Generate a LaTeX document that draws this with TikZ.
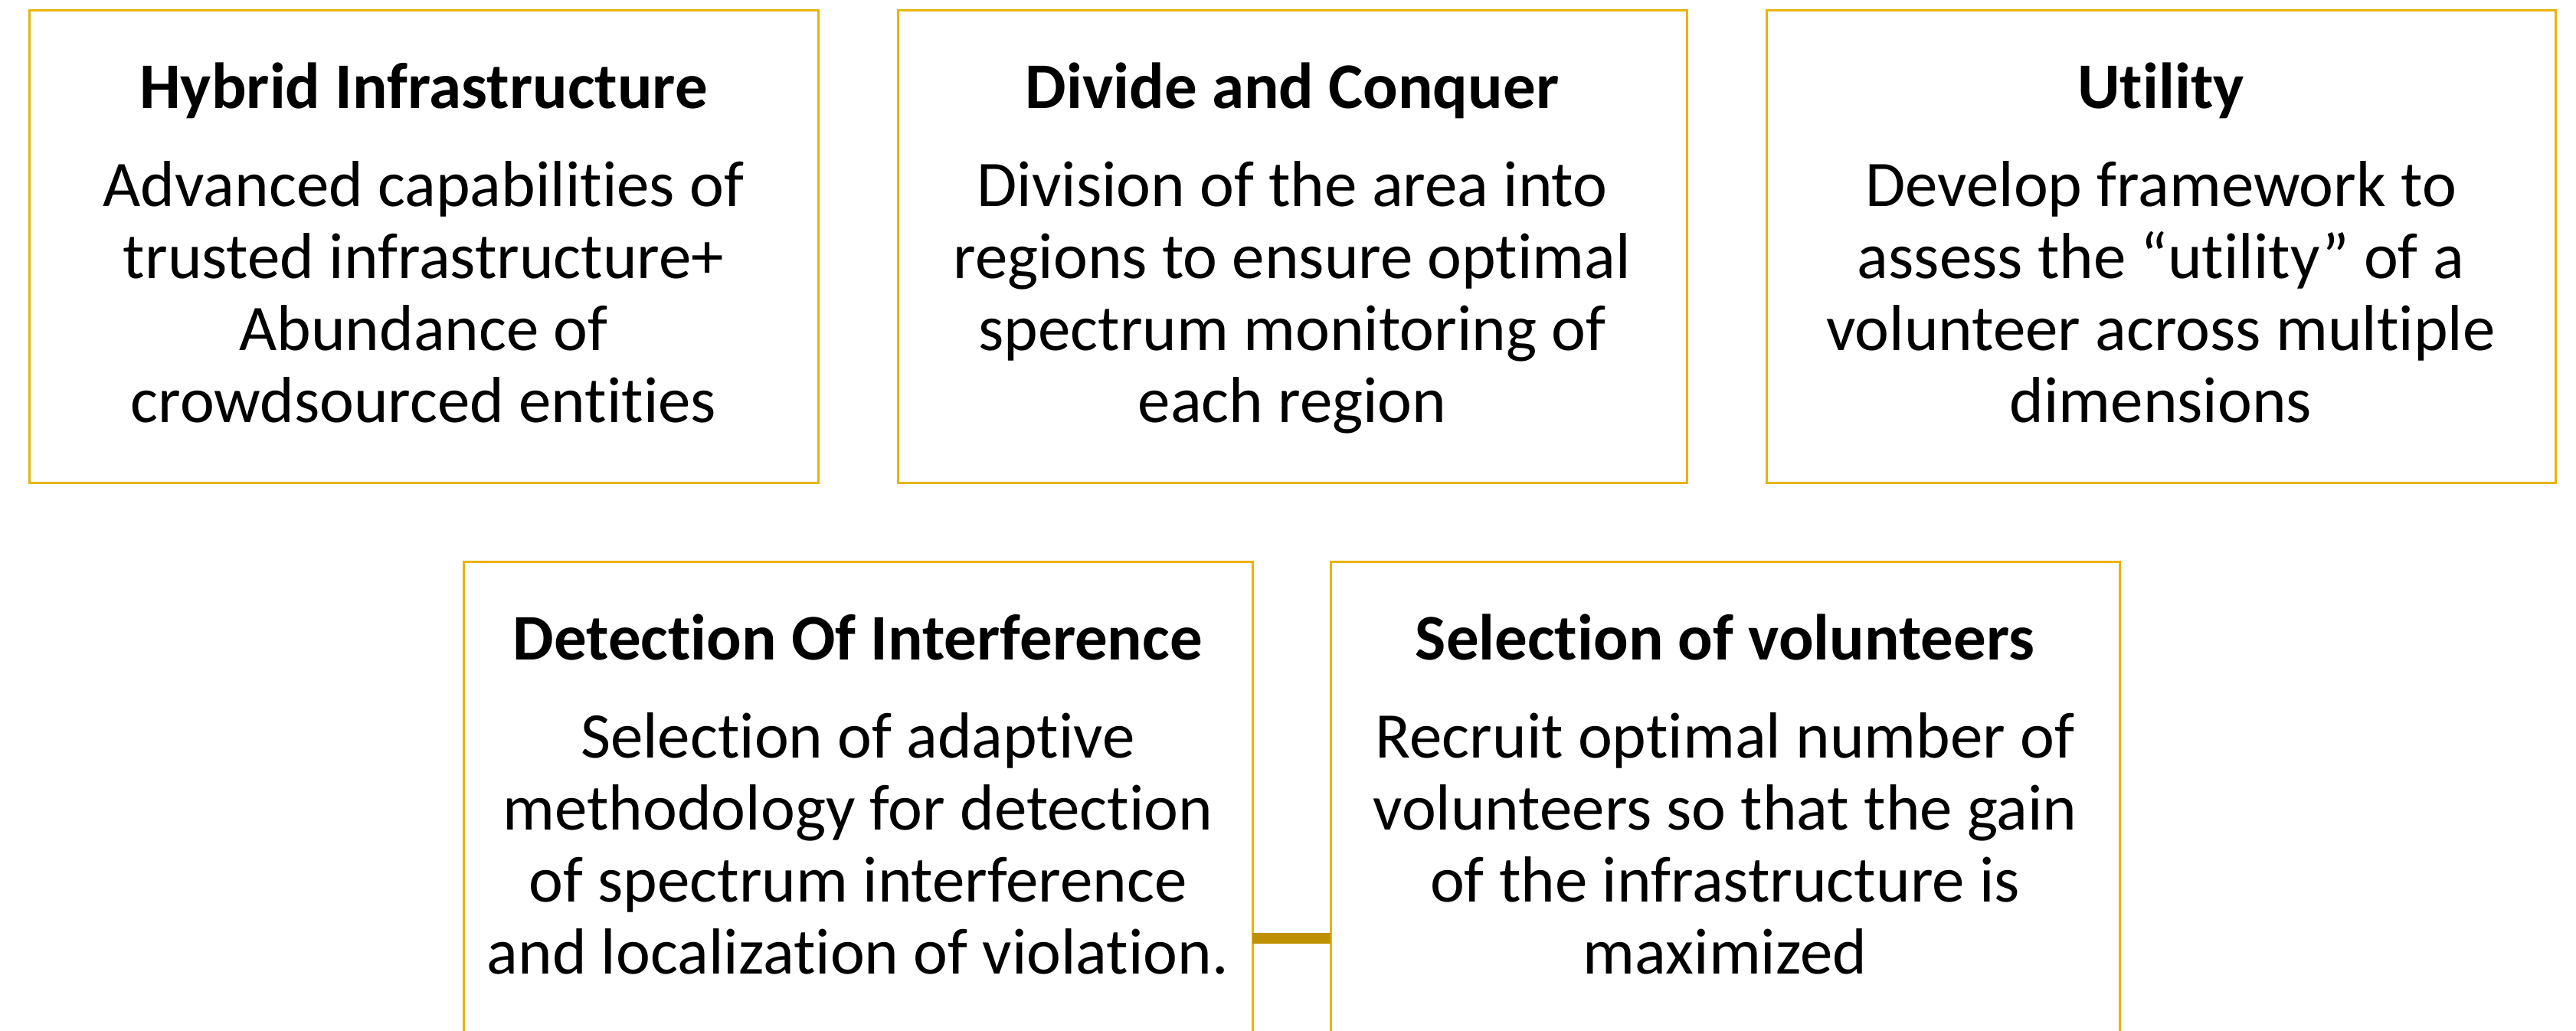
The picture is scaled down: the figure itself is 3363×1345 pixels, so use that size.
\documentclass[tikz,border=0pt]{standalone}
\usepackage{fontspec}
\setmainfont{Carlito}[Ligatures=NoCommon]
\definecolor{boxgold}{HTML}{E8B40C}
\definecolor{linkgold}{HTML}{BF9000}
\begin{document}
\begin{tikzpicture}[x=1pt,y=1pt,
  panel/.style={draw=boxgold, line width=3pt, minimum width=1030pt, minimum height=617pt, inner sep=0pt, outer sep=0pt},
  txt/.style={align=center, anchor=base, font=\fontsize{85}{94}\selectfont, inner sep=0pt},
  link/.style={draw=linkgold, line width=14pt}]
\useasboundingbox (0,0) rectangle (3363,-1345);
\node[panel] (b1) at (553,-321.5) {};
\node[panel] (b2) at (1687,-321.5) {};
\node[panel] (b3) at (2821,-321.5) {};
\node[panel] (b4) at (1120,-1041.5) {};
\node[panel] (b5) at (2252,-1041.5) {};
\node[txt] (t1) at ([yshift=-538pt]b1.north) {\textbf{Hybrid Infrastructure}\\[34pt]Advanced capabilities of\\trusted infrastructure+\\Abundance of\\crowdsourced entities};
\node[txt] (t2) at ([yshift=-538pt]b2.north) {\textbf{Divide and Conquer}\\[34pt]Division of the area into\\regions to ensure optimal\\spectrum monitoring of\\each region};
\node[txt] (t3) at ([yshift=-538pt]b3.north) {\textbf{Utility}\\[34pt]Develop framework to\\assess the “utility” of a\\volunteer across multiple\\dimensions};
\node[txt] (t4) at ([yshift=-538pt]b4.north) {\textbf{Detection Of Interference}\\[34pt]Selection of adaptive\\methodology for detection\\of spectrum interference\\and localization of violation.};
\node[txt] (t5) at ([yshift=-538pt]b5.north) {\textbf{Selection of volunteers}\\[34pt]Recruit optimal number of\\volunteers so that the gain\\of the infrastructure is\\maximized};
\coordinate (lk) at (0,-1225);
\draw[link] (b4.east |- lk) -- (b5.west |- lk);
\end{tikzpicture}
\end{document}
